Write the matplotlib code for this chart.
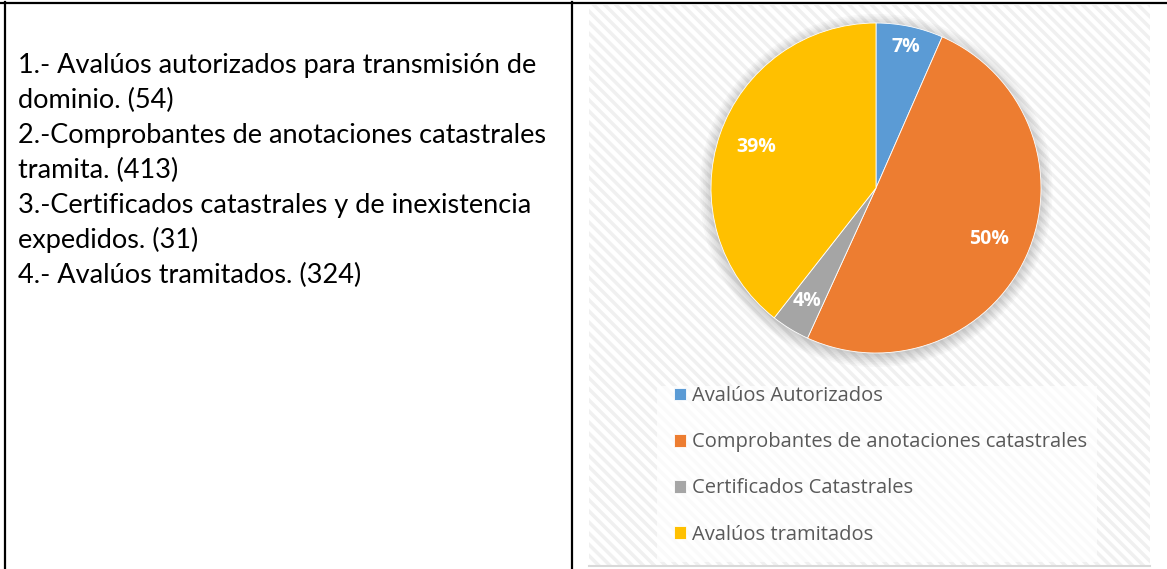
import matplotlib
matplotlib.use('Agg')
import matplotlib.pyplot as plt
import numpy as np
from matplotlib.patches import Rectangle, Circle

# data
categories = ['Avalúos Autorizados', 'Comprobantes de anotaciones catastrales',
              'Certificados Catastrales', 'Avalúos tramitados']
counts = [54, 413, 31, 324]
colors = ['#5B9BD5', '#ED7D31', '#A5A5A5', '#FFC000']
left_lines = ['1.- Avalúos autorizados para transmisión de',
              'dominio. (54)',
              '2.-Comprobantes de anotaciones catastrales',
              'tramita. (413)',
              '3.-Certificados catastrales y de inexistencia',
              'expedidos. (31)',
              '4.- Avalúos tramitados. (324)']

W, H = 1167, 569
fig = plt.figure(figsize=(W / 100, H / 100), dpi=100)
plt.rcParams['hatch.linewidth'] = 2.5

# full figure axes in pixel coordinates for the table frame
bg = fig.add_axes([0, 0, 1, 1])
bg.set_xlim(0, W)
bg.set_ylim(H, 0)
bg.axis('off')

# hatched chart background
bg.add_patch(Rectangle((589, 5), 561, 561, facecolor='white', edgecolor='#f0f0f0',
                       hatch='\\\\\\', linewidth=0, zorder=1))
bg.plot([589, 1150], [566, 566], color='#d9d9d9', lw=1.5, zorder=2)
# legend area a bit lighter
bg.add_patch(Rectangle((657, 386), 440, 176, facecolor='white', alpha=0.7,
                       edgecolor='none', zorder=2))

# table lines
bg.plot([0, W], [2.5, 2.5], color='black', lw=1.6, zorder=5)
bg.plot([5, 5], [2, H], color='black', lw=1.6, zorder=5)
bg.plot([572, 572], [2, H], color='black', lw=1.6, zorder=5)

# left cell text
for i, line in enumerate(left_lines):
    bg.text(18, 65 + i * 35, line, fontsize=19.5, family='Lato', color='black',
            va='center', ha='left', zorder=6)

# pie
cx, cy, r = 876, 188, 165
pie_ax = fig.add_axes([(cx - r) / W, 1 - (cy + r) / H, 2 * r / W, 2 * r / H])
pie_ax.axis('off')

# soft shadow
for k in range(8):
    pie_ax.add_patch(Circle((0, -0.015), 1.0 + k * 0.01, color='#000000',
                            alpha=0.022, lw=0, zorder=0, clip_on=False))

wedges, _ = pie_ax.pie(counts, colors=colors, startangle=90, counterclock=False,
                       radius=1, wedgeprops=dict(linewidth=0.6, edgecolor='white'))
for w in wedges:
    w.set_zorder(2)

total = sum(counts)
label_dist = [0.87, 0.75, 0.80, 0.77]
for w, c, d in zip(wedges, counts, label_dist):
    ang = np.deg2rad((w.theta1 + w.theta2) / 2)
    pie_ax.text(d * np.cos(ang), d * np.sin(ang), '%d%%' % round(100 * c / total),
                color='white', fontsize=14, fontweight='bold', family='Open Sans',
                ha='center', va='center', zorder=3)
pie_ax.set_xlim(-1, 1)
pie_ax.set_ylim(-1, 1)

# legend
leg = fig.legend(wedges, categories, loc='upper left',
                 bbox_to_anchor=(656 / W, 1 - 368 / H), bbox_transform=fig.transFigure,
                 frameon=False, handlelength=0.6, handleheight=0.6, handletextpad=0.3,
                 labelspacing=1.3, prop={'family': 'Open Sans', 'size': 14.5})
for t in leg.get_texts():
    t.set_color('#595959')

fig.savefig('out.png', dpi=100)
